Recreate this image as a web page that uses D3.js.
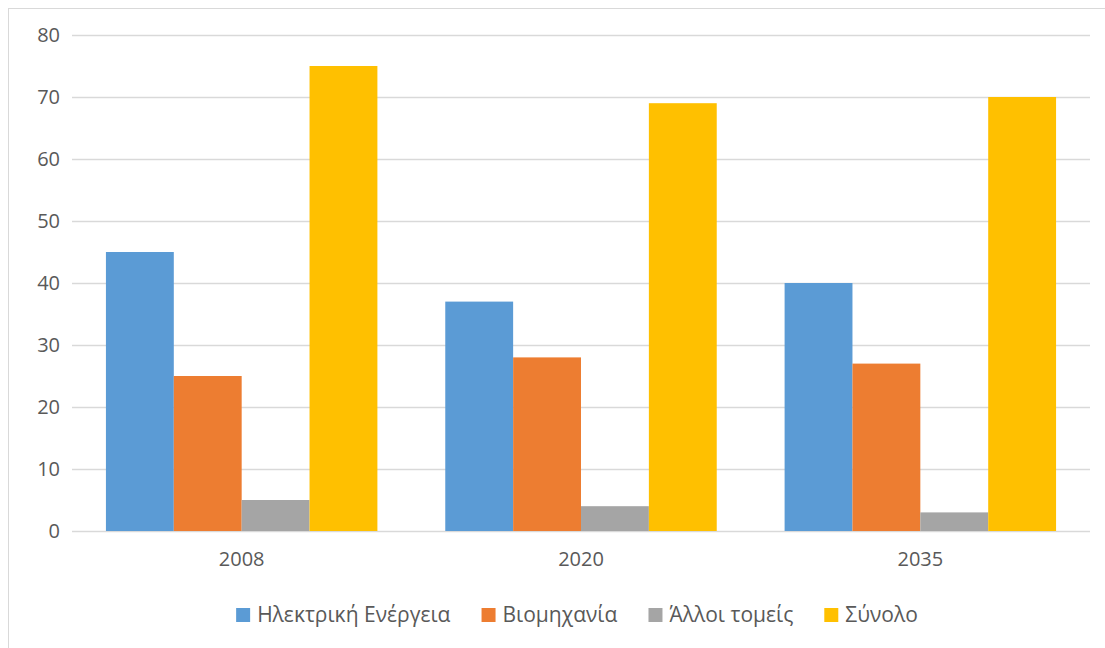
<!DOCTYPE html>
<html>
<head>
<meta charset="utf-8">
<script src="https://cdn.jsdelivr.net/npm/d3@7"></script>
<style>
  html, body { margin: 0; padding: 0; background: #fff; }
  svg { display: block; }
  text { font-family: "Open Sans", "DejaVu Sans", sans-serif; fill: #595959; }
</style>
</head>
<body>
<svg id="chart" width="1105" height="648"></svg>
<script>
const categories = ["2008", "2020", "2035"];
const seriesNames = ["Ηλεκτρική Ενέργεια", "Βιομηχανία", "Άλλοι τομείς", "Σύνολο"];
const electricity = [45, 37, 40];
const industry = [25, 28, 27];
const otherSectors = [5, 4, 3];
const total = [75, 69, 70];
const yTicks = [0, 10, 20, 30, 40, 50, 60, 70, 80];
const colors = ["#5b9bd5", "#ed7d31", "#a5a5a5", "#ffc000"];

const seriesValues = [electricity, industry, otherSectors, total];
const data = categories.map((c, i) => ({
  cat: c,
  vals: seriesNames.map((s, j) => ({ key: s, value: seriesValues[j][i], idx: j }))
}));

const svg = d3.select("#chart");
const W = 1105, H = 648;
const margin = { left: 72, right: 15, top: 35, bottom: 117 };

// outer border
svg.append("rect").attr("x", 8.5).attr("y", 8.5).attr("width", W).attr("height", H)
  .attr("fill", "none").attr("stroke", "#d9d9d9").attr("stroke-width", 1);

const x0 = d3.scaleBand().domain(categories)
  .range([margin.left, W - margin.right]).paddingInner(0.2).paddingOuter(0.1);
const x1 = d3.scaleBand().domain(seriesNames).range([0, x0.bandwidth()]).padding(0);
const y = d3.scaleLinear().domain([0, 80]).range([H - margin.bottom, margin.top]);

// gridlines
const yAxis = d3.axisLeft(y).tickValues(yTicks).tickSize(-(W - margin.right - margin.left)).tickPadding(12);
const gy = svg.append("g").attr("transform", `translate(${margin.left},0)`).call(yAxis);
gy.select(".domain").remove();
gy.selectAll(".tick line").attr("stroke", "#d9d9d9").attr("stroke-width", 1.3);
gy.selectAll(".tick text").style("font-size", "20px").attr("fill", "#595959");

// bars
const groups = svg.append("g").selectAll("g").data(data).join("g")
  .attr("transform", d => `translate(${x0(d.cat)},0)`);
groups.selectAll("rect").data(d => d.vals).join("rect")
  .attr("x", d => x1(d.key))
  .attr("width", x1.bandwidth())
  .attr("y", d => y(d.value))
  .attr("height", d => y(0) - y(d.value))
  .attr("fill", d => colors[d.idx]);

// x axis
const xAxis = d3.axisBottom(x0).tickSize(0).tickPadding(21);
const gx = svg.append("g").attr("transform", `translate(0,${y(0)})`).call(xAxis);
gx.select(".domain").remove();
gx.selectAll(".tick text").style("font-size", "20px").attr("fill", "#595959");

// legend
const legend = svg.append("g").attr("transform", "translate(0,622)");
const items = legend.selectAll("g").data(seriesNames).join("g");
items.append("rect").attr("width", 14).attr("height", 14).attr("y", -14)
  .attr("fill", (d, i) => colors[i]);
items.append("text").attr("x", 21).attr("y", 0).style("font-size", "21px").text(d => d);
let widths = [];
items.each(function () { widths.push(this.getBBox().width); });
const gap = 31;
const totalW = d3.sum(widths) + gap * (widths.length - 1);
let cx = 577 - totalW / 2;
items.each(function (d, i) {
  d3.select(this).attr("transform", `translate(${cx},0)`);
  cx += widths[i] + gap;
});
</script>
</body>
</html>
